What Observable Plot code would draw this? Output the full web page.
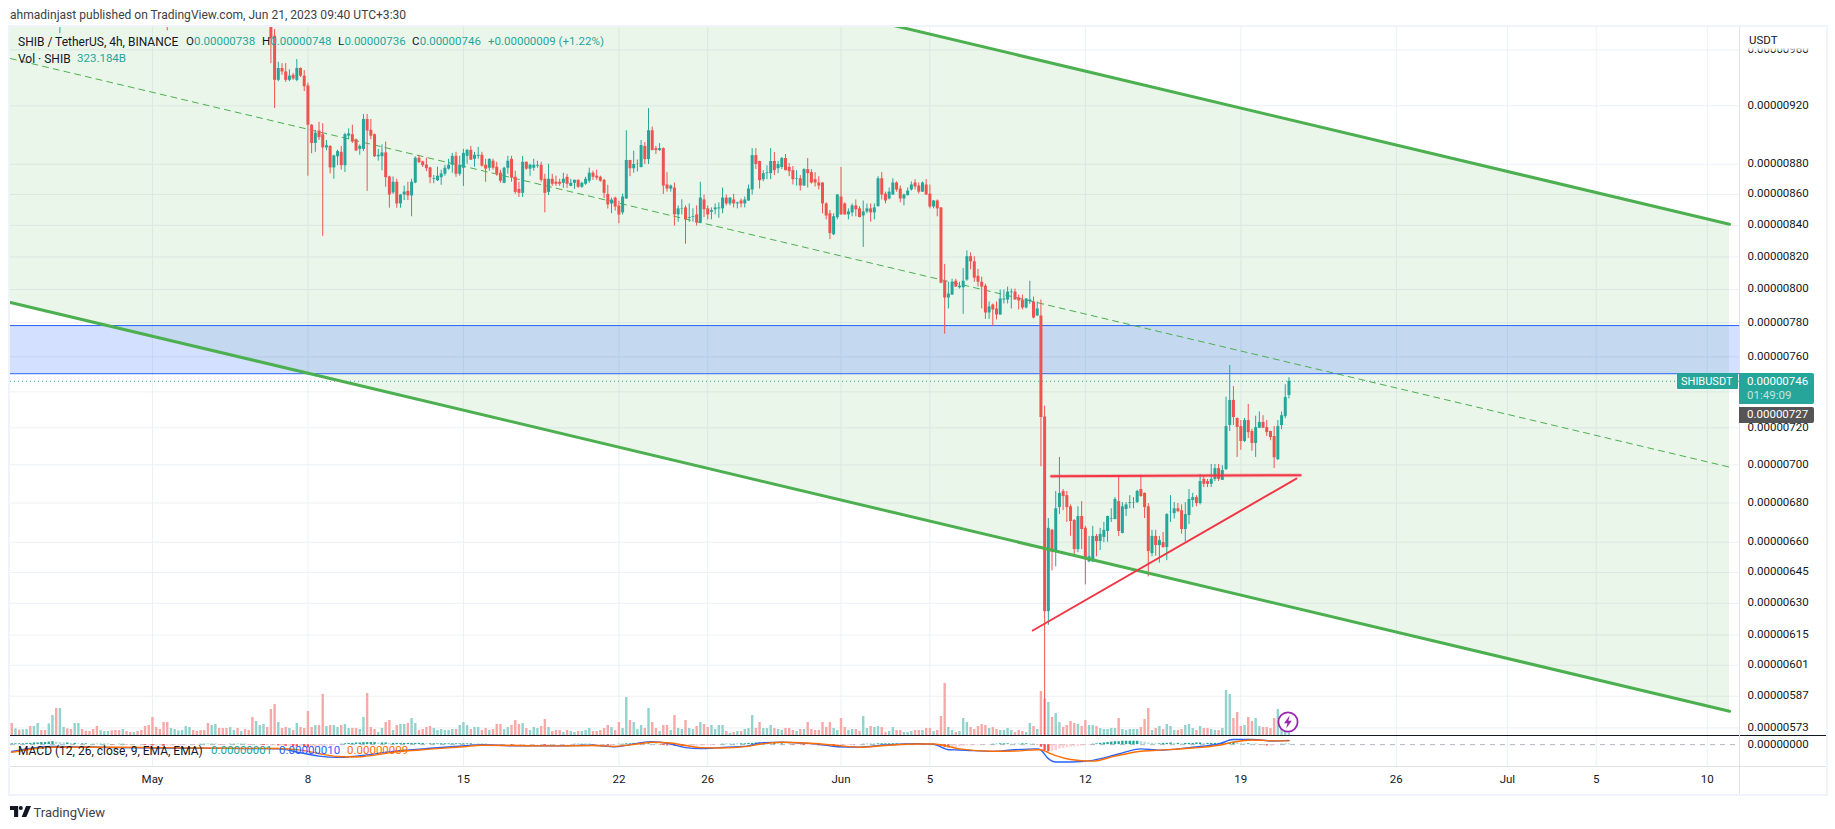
<!DOCTYPE html>
<html>
<head>
<meta charset="utf-8">
<script src="https://cdn.jsdelivr.net/npm/d3@7"></script>
<script src="https://cdn.jsdelivr.net/npm/@observablehq/plot@0.6"></script>
<style>
html,body{margin:0;padding:0;background:#fff;overflow:hidden}
#page{position:relative;width:1835px;height:829px;font-family:Roboto,sans-serif;color:#131722;overflow:hidden}
#page svg{position:absolute}
.t{position:absolute;white-space:pre;line-height:1}
</style>
</head>
<body>
<div id="page"></div>
<script>
// all prices in units of 0.00000001 USDT; bar numbers count 4h bars from 1 May 2023
const priceTicks=[960,920,880,860,840,820,800,780,760,720,700,680,660,645,630,615,601,587,573];
const hiddenGridPrices=[740];
const xTickDates=["2023-05-01","2023-05-08","2023-05-15","2023-05-22","2023-05-26","2023-06-01","2023-06-05","2023-06-12","2023-06-19","2023-06-26","2023-07-01","2023-07-05","2023-07-10"];
const xTickLabels=["May","8","15","22","26","Jun","5","12","19","26","Jul","5","10"];
const firstBar=32;
const opens=[1000,970,938,946.5,944,938,941.6,938,946.5,941,
934,906.5,894,902.5,900,891,892,877.5,885,888,
879,899,900,896.5,890,890,910.5,903,900,885,
885,887.6,871.5,861,868,853.8,859.6,862,859,867.5,
884,881.6,879.5,877.5,870,869,871,
873.3,876.7,879.3,885.3,873.3,877.3,885.3,889.3,883.3,885.3,
886,879.3,877.3,882,878,874,867.3,877.3,883.3,871.3,
863.3,860.7,881.3,876.7,877.3,878.7,879.3,870,861.3,870,
868,868,867.3,871.3,865.3,867.3,869.3,864.7,866.7,868.7,
874,872,871.3,869.3,860,853.8,857.6,852.4,848,
857,882.5,877,879.8,877.8,892,883.1,902.7,890.5,889.2,
890.5,866.2,863.5,864.2,846.7,850.3,851.2,844.5,845,846.7,
841.5,856.4,850.6,848.4,850,850.6,850.6,857.6,853.8,856.4,
853.8,855.7,853.8,855.7,862.9,885.8,881.8,869.7,873.7,873.7,
881.8,877,877.8,883.8,877.8,875.7,869.9,870.3,865.5,876.4,
874.4,869.7,867.5,867.5,853.8,847.4,834,844.9,858.3,853.8,
846.7,848,852.5,850.6,846,848.6,850.6,848,852,870.3,
860.2,857,859.6,867.5,863.5,857,859.2,862.9,867.5,865.5,
861.5,866.2,860.2,851.8,855.7,851.2,805,794.8,796.6,805,
801,801,805.7,820.2,817,808,804.4,802,785.8,790.6,
788.2,784.6,793.6,793.6,798,798.4,794.8,793.6,788.8,792.6,
792.4,784,784,726,626,666,655,677.6,686,683.8,
678,671,656.3,673,667,650.2,650.2,662.9,660.3,662.4,
665.4,671.7,671.5,680.7,664.4,676.6,679.8,680,680.2,687,
685,678,654.3,662.9,658.3,659.8,657.3,675,674.5,677,
676,666.4,673.5,681.3,682.8,679.7,692.3,691.2,689.7,692.3,
698,691.8,697.5,721.3,735.2,725.2,720.7,712.6,724,718,
711.5,719.8,723,720.2,718,715.3,702.8,721.3,726.2,738];
const highs=[1010,975,951,950,950,945.5,943,953,947,945,
936,907,903,908.5,907.5,896,892.5,886,889.5,892,
901,904,906.5,897,893,914,914,910.5,900.5,890,
893,895,872,871.5,870,860,865.5,868,870,885,
886,882,884,878,872.5,878,876,
879.3,883.3,887.3,888,885.3,890,890,892,888,891.3,
888,883.3,883.5,883.3,881.3,876,878,885.3,885.3,875.3,
868,885.3,881.5,880,883.3,882,881.3,873.3,880,873.3,
872,870,874,873.3,870,869.5,869.5,868,871.3,877.3,
875.3,876,872,870,866,857.6,858.2,855.6,860.2,
902.7,882.6,888.8,882.8,896,894.6,918,905.2,892,893.9,
891,874.4,866.2,867.5,852.5,856.5,852.5,853.8,850.6,852.5,
868,859.6,852.5,851.2,853.8,854.5,864.2,859.6,857.8,860,
855,857,858.3,866.2,890.5,890.5,882,875.7,879,890.5,
887.9,881.8,884.5,886.5,880.5,878.5,875.7,872.4,877,883.8,
876.4,874.4,871.7,867.7,854.5,849.5,847.4,860,877.8,854.5,
850.6,853.8,856.4,852,855.7,853.8,853.8,853.8,871.7,874.4,
861.5,864.2,870.3,868.2,865.5,860.2,864.2,868.2,869.7,867.5,
868.2,869.7,866.2,856,856.4,851.4,815.4,804.4,806.2,806.2,
804.4,812.8,823.8,822.6,820.2,812.3,807.5,803.2,792.4,791.2,
792.4,799.6,799.6,801.4,800.2,800.2,796.6,796.6,794.4,805,
795.4,792.4,793.6,732,672,666.5,686,704,687,686,
679,671.5,678,680.7,668,662.9,668,663.9,667,670,
673.2,677,682.8,694.3,680.2,680.2,683.8,682.8,686.6,694.4,
685.2,679.7,666,666,662.9,664.9,674.5,683.8,680.2,679.7,
679,680.2,687,685,683.8,694.9,694.4,692.3,700.2,700.2,
700.2,699.6,737,755,743,725.4,724,725.2,733,719.2,
726.4,728.8,726.7,724,718.2,720.7,724,728.8,744,748];
const lows=[950,918,937,941.6,936.5,937,938,937,940,930,
872,887,888,896,833,889,873.5,870,879,876,
874.5,896.5,894,888.5,886,888.5,862,896.5,884.5,882,
875.6,864.7,851,860,851,851,856,856,845.5,867,
880.5,877.8,875,867,867,868.5,866,
872,876,874,871.3,872,865.3,880,882.5,878,883.3,
878,868,875.3,876,872,867.3,867,873.3,868,860,
858,858,876,872,875.3,877.3,868,848,859.3,865.3,
865.3,865.3,864,864,865,863.3,864,864,866,867.3,
869.3,869.3,868,857.3,850.5,847.5,849.2,841,846.6,
856.8,871.7,874,874.8,877.5,879.8,879.8,889,886.5,888.5,
860,861.5,861.5,839.5,842,846.7,828,842,842,839.5,
841,845,843.5,843.5,846.7,844.5,847.4,852.5,852.5,851.2,
850.6,851.2,851.2,855.5,859.6,876.4,863.5,868.3,869.7,869.7,
872.4,873.7,876.4,875.5,871.7,866.2,865.5,862.2,865.3,864.2,
866.8,864.9,862.9,847.4,843.5,830.9,833.5,843.5,846.5,846.5,
843.5,845.5,845.5,844.8,826,847.4,842,843.5,851.8,856.4,
853.8,856.4,859.4,861.5,854.5,852.5,859,862.2,862.9,860.2,
861.3,859.4,850.6,850.6,845.5,803.4,773.2,788.2,796.4,801.2,
800.2,785,805,812,804.4,801.4,788.2,782,782,777.8,
781.6,784.4,791.2,791.2,788.2,793.4,787.6,787.6,788.2,791,
782.2,783.8,699,549,619.5,645.7,647.7,674,676,670,
663,653.8,654.8,656.3,638.9,649.7,650,652.7,655.8,659.8,
660,670,671.3,662.9,664.2,673,677,677,679.7,683,
672,642.8,652.7,653,649.6,657,650.8,670,671.7,675,
664,660,669,677.6,678,679,688,688,688,691.2,
691.2,691.7,697,718,721.3,704,707.8,712,714.2,707.3,
704,719.6,719.6,715.3,713,698,702.3,719,725,736];
const closes=[968,938,946.5,944,938,941,939,946.5,941,933.5,
906.5,894,901,898,891,892.5,877.5,885.6,888.5,879,
900,900.5,895,889,892,910.5,902.5,899,885,886,
887.6,871,859.6,868,853.8,859.6,861.5,859,868,884,
881,879,877,871,870.5,872,873.5,
877.3,879.3,885.3,873.3,879.3,887.3,889.3,882.7,886,886,
878.7,876.7,883.3,877.3,873.3,868.7,877.3,882,870.7,861.3,
860.7,881.3,876.7,879.3,879.3,879.3,869.3,860.7,870,866.7,
866.7,866.7,870,866.7,867.3,869.3,864.7,867.3,870,874,
871.3,870.7,868.7,860.7,853.2,856.3,851.8,846.6,858.3,
882.5,877,879.8,880,892.6,883.1,902.7,889.2,889.2,890.5,
865.5,863.5,865.5,846.7,850.6,850.6,843.5,845,845.5,841.5,
857.6,850,846.7,849.5,851.2,851.2,857.6,853.8,857.6,853.8,
854.5,853.8,856.4,863.5,885.8,879.8,869,873.7,874.2,881.8,
875.7,879.8,883.8,875.7,875,869.7,870.3,865.5,876.4,873.7,
867.5,867.5,865.5,853.8,846,834.7,845.5,859.6,846.7,846.7,
848.6,852.5,850,845,848.6,850.6,848,851.2,870.3,859.6,
855.7,861.5,867.5,862.9,857,859.6,862.2,866.2,864.9,861.5,
867.5,859.6,851.8,855.7,850.6,803.8,794.8,797.2,804.4,801.4,
802,805,820.2,817,806.9,804.4,801.4,785.8,789.4,787.6,
784.6,794.2,794.2,798.4,798.4,793.6,793,788.8,794.2,793.6,
782.8,788.2,725.7,626,667,655,677,685,683.3,677.6,
670.5,656.3,673,666.4,651.2,652.7,662.9,660.3,663.9,666,
673,672,681.8,665.4,678,679,680.2,680.2,686,683.3,
677.6,655.3,662.9,658.3,660.8,657.3,674,675.2,677,675.5,
666.4,674,681.8,682.8,679.7,691.2,689.7,689.7,692.3,698,
692.3,697,720.7,735.2,725.7,720.2,712.6,724,717.4,711.5,
720.2,723,719.8,717.4,714.7,703.8,720.7,726.7,736.8,746];
// bars whose bodies lie above the visible range, only their lower wicks show
const earlyBars=[-25,4];
const earlyOpens=[985,995];
const earlyHighs=[995,1000];
const earlyLows=[972,974];
const earlyCloses=[990,985];
// volume in billions of SHIB, bar -38 to bar 307
const firstVolBar=-38;
const volumes=[1440,800,640,680,720,1080,1080,1440,600,600,1400,2400,3240,3240,960,800,720,1440,1440,720,520,480,720,1080,600,480,480,560,600,600,720,480,360,360,480,600,1080,1200,2160,960,720,1560,1560,840,720,560,600,1080,960,600,480,600,600,1440,1200,1320,840,840,840,960,600,840,480,720,600,2160,1680,1200,1320,960,
3120,3720,1560,840,960,840,600,1440,960,840,
2880,960,1200,1200,4920,1080,1200,1200,960,1200,
1320,840,840,840,720,2160,5040,960,720,360,
840,1560,1800,600,1200,1320,1320,1440,2040,1440,
600,720,960,1080,840,600,720,
600,600,720,720,1200,1560,1200,720,960,960,
600,840,600,720,1320,1320,720,960,1200,1800,
1320,1440,840,600,960,840,1080,1920,960,480,
600,600,360,600,480,360,480,480,600,840,
480,480,600,840,1200,960,600,1560,840,
4560,1800,1560,720,1200,840,3240,1560,840,480,
1200,1200,600,2400,840,720,1800,840,720,1080,
1560,1320,960,1200,720,1200,1200,480,240,360,
480,480,720,840,2400,840,1560,840,840,1200,
840,720,600,840,840,600,480,720,720,1560,
720,600,600,1560,960,1560,840,600,2040,960,
600,720,720,480,2280,840,1080,960,1080,960,
360,480,960,600,600,360,360,480,600,600,
600,840,840,480,600,2280,6240,960,600,360,
480,2040,1560,960,720,1080,1320,1200,840,960,
720,600,600,840,600,360,600,480,360,1440,
1080,720,5280,4400,3960,2160,2640,1560,960,1200,
1680,1440,1320,1080,1800,1200,1200,1080,840,720,
720,840,840,2040,720,600,720,720,720,960,
1920,3240,600,840,1080,720,1320,1080,600,600,
720,1200,1320,840,600,1080,840,840,720,600,
600,840,5400,4920,2040,2760,1080,1200,2160,1680,
2040,1080,960,960,840,2040,3120,960,480,323];
// volume direction for the bars before the first visible candle
const earlyVolDirection="rgrggrggrrggrggrrggrrrrrgggrrrgrrgrrrrrrrrrggggggrrrrrggrrrggrgrrrgggr";
// MACD histogram, bar -38 to bar 307
const macdHist=[2,2,2,2,3,3,4,4,5,5,6,7,
6,5,4,4,3,3,2,2,2,1,1,1,
1,1,1,-1,-1,1,1,-1,-1,-1,-1,-1,
-2,-2,-3,-3,-3,-4,-3,-3,-2,-2,-2,-1,
-1,-1,-1,1,1,1,1,1,-1,-1,-1,1,
1,1,1,1,-1,-1,-1,-1,-2,-2,-2,-2,
-3,-3,-4,-4,-5,-6,-6,-7,-8,-8,-7,-6,
-5,-4,-3,-2,-1,1,2,3,3,4,4,5,
5,5,5,4,4,4,3,3,3,3,3,3,
3,3,3,3,2,2,2,2,2,2,2,2,
2,2,2,2,2,1,1,1,1,-1,-1,-1,
-1,-1,-1,-2,-2,-2,-2,-1,-1,-1,-1,-1,
-2,-2,-1,-1,-1,-1,-1,-1,1,1,1,1,
1,-1,-1,-1,-1,-2,-2,-1,1,1,2,2,
3,3,3,2,2,1,1,-1,-2,-3,-3,-4,
-4,-5,-5,-5,-4,-4,-3,-3,-2,-2,-1,-1,
1,1,1,1,1,2,2,3,3,4,4,4,
4,3,3,2,2,1,1,-1,-1,-1,-2,-2,
-2,-2,-3,-3,-3,-3,-4,-4,-3,-3,-2,-2,
-1,-1,1,1,1,1,2,2,2,2,2,2,
1,1,1,1,1,1,-1,-1,-1,-1,-2,-4,
-7,-8,-8,-7,-5,-4,-3,-2,-2,-1,-1,-1,
-1,1,1,2,2,2,1,1,1,2,2,1,
1,-1,-6,-14,-17,-16,-14,-10,-9,-7,-6,-5,
-4,-3,-2,-1,1,2,3,4,5,6,7,7,
8,8,8,8,8,7,6,4,3,2,2,3,
3,4,3,3,2,3,3,3,4,4,3,3,
3,3,3,3,3,4,6,4,3,2,2,1,
1,-1,-1,-3,-3,-2,-1,1,1,1];
const macdBars=[-38,-27,-9,12,34,40,45,50,55,66,76,84,89,98,108,119,125,131,135,140,144,148,153,161,164,170,175,180,185,191,198,207,211,215,218,227,233,239,240,242,244,248,254,261,267,272,281,288,292,297,303,307];
const macdLine=[-16,-4,-7,-8.5,-10,-19,-27,-30,-27,-15,-8,-3,0,-3,-3,-1.5,-5,3,7,1.5,-7,-9,-7,-3,4,6,4,1,-5,-6,-1,2,1,-12,-12.5,-16,-12,-10,-13,-33,-41,-41,-37,-22,-10,-13,-6,1.5,12,12,8.5,10];
const signalBars=[-38,-27,-9,12,34,40,45,50,55,66,76,84,89,98,108,119,125,131,135,140,144,148,153,161,164,170,175,180,185,191,198,207,211,215,218,227,233,239,240,242,244,248,254,260,267,272,281,288,292,297,303,307];
const signalLine=[-18,-6,-6,-8,-9,-13,-21,-28,-29,-17,-10,-5,-1.5,-2,-3,-2,-4,1.5,5.5,4,-2,-7,-8,-4,1,5.5,4.5,2,-2,-6,-2,1.5,1.5,-4,-10,-15.5,-15,-12,-12,-19,-26,-35,-39,-27,-15.5,-13,-8,-1.5,6,11,9,9];
// drawings: [start bar, end bar] and prices
const channelUpper=[1147.5,840.7];
const channelMiddle=[953.7,698.8];
const channelLower=[792.1,580.3];
const channelBars=[-38.36,426];
const zoneTop=778.3, zoneBottom=750.3;
const lastPrice=746, averagePrice=727;
const resistanceBars=[242.8,310.1], resistancePrices=[694,694.5];
const supportBars=[237.8,309], supportPrices=[617.1,692.7];

const H4=4*3600e3, base=Date.UTC(2023,4,1), DAY=24*3600e3;
const at=i=>new Date(base+i*H4);
const xDomain=[new Date(base-6.39*DAY),new Date(base+71.45*DAY)];
const xTicks=xTickDates.map(d=>new Date(d+"T00:00:00Z"));
const xLabelByTime=new Map(xTicks.map((d,i)=>[+d,xTickLabels[i]]));
const UP="#26a69a", DOWN="#ef5350";
const fmt=v=>(v/1e8).toFixed(8);
const AXFONT=11.5;

const candles=earlyBars.map((b,k)=>({i:b,o:earlyOpens[k],h:earlyHighs[k],l:earlyLows[k],c:earlyCloses[k]}))
  .concat(opens.map((o,k)=>({i:firstBar+k,o,h:highs[k],l:lows[k],c:closes[k]})));
candles.forEach(d=>{d.d=at(d.i);d.col=d.c>=d.o?UP:DOWN;});
const volData=volumes.map((v,k)=>{const i=firstVolBar+k;
  const up=i<firstBar?earlyVolDirection[k]==="g":closes[i-firstBar]>=opens[i-firstBar];
  return {d:at(i),v,col:up?"#92d3cd":"#f7a9a7"};});
const histData=macdHist.map((v,k)=>{const p=k?macdHist[k-1]:0;
  return {d:at(firstVolBar+k),v,col:v>=0?(v>=p?"#26a69a":"#b2dfdb"):(v<p?"#ff5252":"#ffcdd2")};});
const macdData=macdBars.map((b,k)=>({d:at(b),v:macdLine[k]}));
const signalData=signalBars.map((b,k)=>({d:at(b),v:signalLine[k]}));
const pair=(bars,vals)=>bars.map((b,k)=>({d:at(b),v:vals[k]}));

const shared={width:1835,height:735,marginLeft:10,marginRight:96,marginTop:27,marginBottom:0,
  style:{background:"transparent",maxWidth:"none",overflow:"visible"}};
const xs={type:"utc",domain:xDomain,axis:null};
const ys={type:"log",domain:[569.7,976.5],axis:null};
const GRID="#ecf0f5";

const baseLayer=Plot.plot({...shared,x:xs,y:ys,marks:[
  Plot.ruleY(priceTicks.concat(hiddenGridPrices),{y:d=>d,stroke:GRID,strokeWidth:1}),
  Plot.ruleX(xTicks,{x:d=>d,stroke:GRID,strokeWidth:1})
]});
const volLayer=Plot.plot({...shared,x:xs,y:{type:"linear",domain:[0,84960],axis:null},marks:[
  Plot.ruleX(volData,{x:"d",y1:0,y2:"v",stroke:"col",strokeWidth:2.4})
]});
const chPts=channelBars.map((b,k)=>({d:at(b),u:channelUpper[k],m:channelMiddle[k],l:channelLower[k]}));
const mainLayer=Plot.plot({...shared,x:xs,y:ys,marks:[
  Plot.areaY(chPts,{x:"d",y1:"u",y2:"l",fill:"#4caf50",fillOpacity:0.115,clip:true}),
  Plot.rect([{a:xDomain[0],b:xDomain[1]}],{x1:"a",x2:"b",y1:zoneBottom,y2:zoneTop,fill:"#2962ff",fillOpacity:0.2,clip:true}),
  Plot.ruleY([zoneTop,zoneBottom],{y:d=>d,stroke:"#2962ff",strokeWidth:1}),
  Plot.ruleY([lastPrice],{y:d=>d,stroke:UP,strokeWidth:1,strokeDasharray:"1,3"}),
  Plot.line(chPts,{x:"d",y:"m",stroke:"#4caf50",strokeWidth:1,strokeDasharray:"6,5",clip:true}),
  Plot.ruleX(candles,{x:"d",y1:"l",y2:"h",stroke:"col",strokeWidth:1,clip:true}),
  Plot.ruleX(candles,{x:"d",y1:"o",y2:"c",stroke:"col",strokeWidth:3,clip:true}),
  Plot.line(chPts,{x:"d",y:"u",stroke:"#4caf50",strokeWidth:3,clip:true}),
  Plot.line(chPts,{x:"d",y:"l",stroke:"#4caf50",strokeWidth:3,clip:true}),
  Plot.line(pair(resistanceBars,resistancePrices),{x:"d",y:"v",stroke:"#f23645",strokeWidth:4,strokeOpacity:0.25}),
  Plot.line(pair(resistanceBars,resistancePrices),{x:"d",y:"v",stroke:"#f23645",strokeWidth:2}),
  Plot.line(pair(supportBars,supportPrices),{x:"d",y:"v",stroke:"#f23645",strokeWidth:2}),
  Plot.axisY(priceTicks,{anchor:"right",tickSize:0,tickPadding:8,dy:-0.7,tickFormat:fmt,label:null,fontSize:AXFONT,fill:"#131722",fontFamily:"Roboto,sans-serif"})
]});
const macdLayer=Plot.plot({width:1835,height:58,marginLeft:10,marginRight:96,marginTop:0,marginBottom:27,
  style:{background:"transparent",maxWidth:"none",overflow:"visible"},
  x:{type:"utc",domain:xDomain},y:{type:"linear",domain:[-51.6,21.6],axis:null},marks:[
  Plot.ruleX(xTicks,{x:d=>d,stroke:GRID,strokeWidth:1}),
  Plot.ruleY([0],{stroke:"#b2b5be",strokeWidth:1,strokeDasharray:"5,5"}),
  Plot.ruleX(histData,{x:"d",y1:0,y2:"v",stroke:"col",strokeWidth:2.4,clip:true}),
  Plot.line(macdData,{x:"d",y:"v",stroke:"#2962ff",strokeWidth:1.4,curve:"monotone-x",clip:true}),
  Plot.line(signalData,{x:"d",y:"v",stroke:"#ff6d00",strokeWidth:1.4,curve:"monotone-x",clip:true}),
  Plot.axisY([0],{anchor:"right",tickSize:0,tickPadding:8,dy:-0.7,tickFormat:fmt,label:null,fontSize:AXFONT,fill:"#131722",fontFamily:"Roboto,sans-serif"}),
  Plot.axisX(xTicks,{anchor:"bottom",tickSize:0,tickPadding:8,label:null,tickFormat:d=>xLabelByTime.get(+d),fontSize:AXFONT,fill:"#131722",fontFamily:"Roboto,sans-serif"})
]});

const page=document.getElementById("page");
function place(svg,top){svg.style.position="absolute";svg.style.left="0";svg.style.top=top+"px";page.appendChild(svg);}
place(baseLayer,0);place(volLayer,0);place(mainLayer,0);place(macdLayer,735);

function box(l,t,w,h,css){const e=document.createElement("div");e.style.cssText=`position:absolute;left:${l}px;top:${t}px;width:${w}px;height:${h}px;${css}`;page.appendChild(e);return e;}
function text(l,cy,str,size,color="#131722"){const e=document.createElement("div");e.className="t";e.textContent=str;e.style.cssText=`left:${l}px;top:${cy}px;transform:translateY(-50%);font-size:${size}px;color:${color};`;page.appendChild(e);return e;}

const yS=mainLayer.scale("y"), xS=mainLayer.scale("x");
// frame and pane separators
box(8,25,1816,767,"border:2px solid #f0f3fa;");
box(10,735,1816,1,"background:#131722;");
box(10,766,1816,1,"background:#e0e3eb;");
box(1739,27,1,767,"background:#e0e3eb;");
// header
box(1740,27,85,24,"background:linear-gradient(#fff 85%,rgba(255,255,255,.35));");
text(1749,41,"USDT",AXFONT);
text(10,15,"ahmadinjast published on TradingView.com, Jun 21, 2023 09:40 UTC+3:30",12.05,"#3c3f48");
const teal="#26a69a";
text(18,41.5,"SHIB / TetherUS, 4h, BINANCE",12);
[["O",186,"0.00000738"],["H",262,"0.00000748"],["L",338,"0.00000736"],["C",412,"0.00000746"]].forEach(([k,l,v])=>{
  const w={O:8,H:8.2,L:6.4,C:7.7}[k];
  text(l,41.5,k,11.5);text(l+w,41.5,v,11.5,teal);
});
text(488,41.5,"+0.00000009 (+1.22%)",11.5,teal);
text(18,58.5,"Vol · SHIB",12);
text(77,58.5,"323.184B",11.5,teal);
text(18,750.5,"MACD (12, 26, close, 9, EMA, EMA)",12);
text(211,750.5,"0.00000001",11.5,teal);
text(279,750.5,"0.00000010",11.5,"#2962ff");
text(347,750.5,"0.00000009",11.5,"#ff6d00");
// price tags, placed through the price scale
const yLast=yS.apply(lastPrice), yAvg=yS.apply(averagePrice);
box(1677,yLast-7.5,61,16,`background:${UP};border-radius:1px;`);
text(1681,yLast+0.5,"SHIBUSDT",11,"#fff");
box(1739,yLast-7.5,75,31,`background:${UP};border-radius:0 2px 2px 0;`);
text(1747,yLast+0.8,"0.00000746",AXFONT,"#fff");
text(1747,yLast+15,"01:49:09",AXFONT,"#c0e6e2");
box(1739,yAvg-8,75,16.5,"background:#555;border-radius:0 2px 2px 0;");
text(1747,yAvg+0.2,"0.00000727",AXFONT,"#fff");
// lightning badge over the last volume bar
const xLastBar=xS.apply(at(307));
const badge=box(xLastBar-11,711,22,22,"");
badge.innerHTML=`<svg width="22" height="22" viewBox="0 0 22 22"><circle cx="11" cy="11" r="9.6" fill="#fff" stroke="#9c27b0" stroke-width="1.8"/><path d="M12.6 4.6 7 12.2h3.4L9.2 17.4l5.6-7.6h-3.4z" fill="#9c27b0"/></svg>`;
// logo
const logo=box(10,806,21,11,"");
logo.innerHTML=`<svg width="21" height="11" viewBox="0 0 36 19" preserveAspectRatio="none"><path d="M14 0H0v7h7v12h7V0zm14 19h-8l7.5-19H36l-8 19zM22 3.5a3.5 3.5 0 1 1-7 0 3.5 3.5 0 0 1 7 0z" fill="#131722"/></svg>`;
text(33.5,811.5,"TradingView",13,"#3c3f48");
</script>
</body>
</html>
